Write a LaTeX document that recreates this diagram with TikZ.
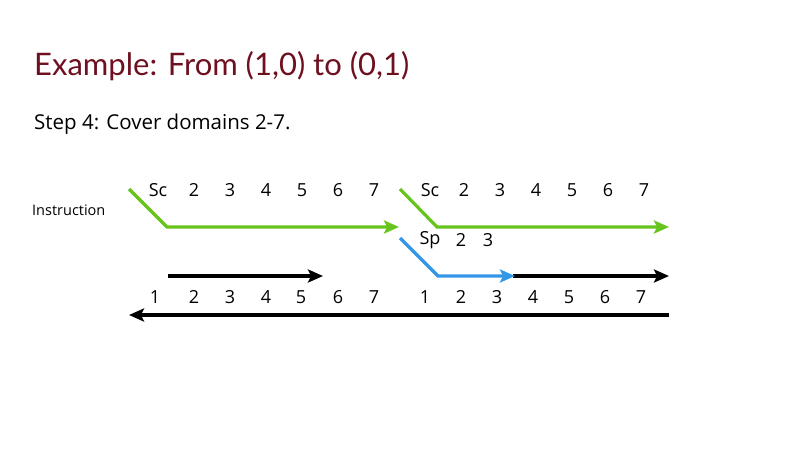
\documentclass[tikz,border=0pt]{standalone}
\usepackage{fontspec}
\setmainfont{Open Sans}
\newfontfamily\titlefont{Lato}
\usetikzlibrary{arrows.meta}
\definecolor{titlered}{RGB}{110,16,32}
\definecolor{lgreen}{RGB}{102,196,28}
\definecolor{lblue}{RGB}{52,150,230}
\begin{document}
\begin{tikzpicture}[x=1pt,y=-1pt,
  strand/.style={line width=3.2pt,-{Stealth[length=15pt,width=13pt,inset=3pt]}},
  lbl/.style={font=\fontsize{18}{21}\selectfont,inner sep=0pt,anchor=center},
  ]
\useasboundingbox (0,0) rectangle (800,450);
\node[anchor=west,inner sep=0pt,text=titlered,font=\titlefont\fontsize{31}{36}\selectfont] (title) at (34,66) {Example: From (1,0) to (0,1)};
\node[anchor=west,inner sep=0pt,font=\fontsize{20.5}{24}\selectfont] (step) at (34,124) {Step 4: Cover domains 2-7.};
\node[anchor=west,inner sep=0pt,font=\fontsize{14.5}{17}\selectfont] (instr) at (32,210) {Instruction};
% coordinates
\coordinate (g1a) at (129,189); \coordinate (g1b) at (167,227); \coordinate (g1c) at (399,227);
\coordinate (g2a) at (400,189); \coordinate (g2b) at (437,227); \coordinate (g2c) at (669,227);
\coordinate (b1a) at (400,238); \coordinate (b1b) at (438,276); \coordinate (b1c) at (515,276);
\coordinate (k1a) at (513,276); \coordinate (k1c) at (669,276);
\coordinate (k2a) at (168,276); \coordinate (k2c) at (323,276);
\coordinate (k3a) at (669,315); \coordinate (k3c) at (129,315);
\draw[strand,lgreen] (g1a) -- (g1b) -- (g1c);
\draw[strand,lgreen] (g2a) -- (g2b) -- (g2c);
\draw[strand,black] (k1a) -- (k1c);
\draw[strand,lblue] (b1a) -- (b1b) -- (b1c);
\draw[strand,black] (k2a) -- (k2c);
\draw[strand,black] (k3a) -- (k3c);
% labels
\foreach \t/\x [count=\i] in {Sc/158,2/194,3/230,4/266,5/302,6/338,7/374}
  \node[lbl] (la\i) at (\x,190) {\t};
\foreach \t/\x [count=\i] in {Sc/430,2/464,3/500,4/536,5/572,6/608,7/644}
  \node[lbl] (lb\i) at (\x,190) {\t};
\foreach \t/\x [count=\i] in {Sp/430,2/461,3/488}
  \node[lbl] (lc\i) at (\x,240) {\t};
\foreach \t/\x [count=\i] in {1/155,2/194,3/230,4/266,5/301,6/338,7/374}
  \node[lbl] (ld\i) at (\x,297) {\t};
\foreach \t/\x [count=\i] in {1/425,2/461,3/497,4/533,5/569,6/605,7/641}
  \node[lbl] (le\i) at (\x,297) {\t};
\end{tikzpicture}
\end{document}
